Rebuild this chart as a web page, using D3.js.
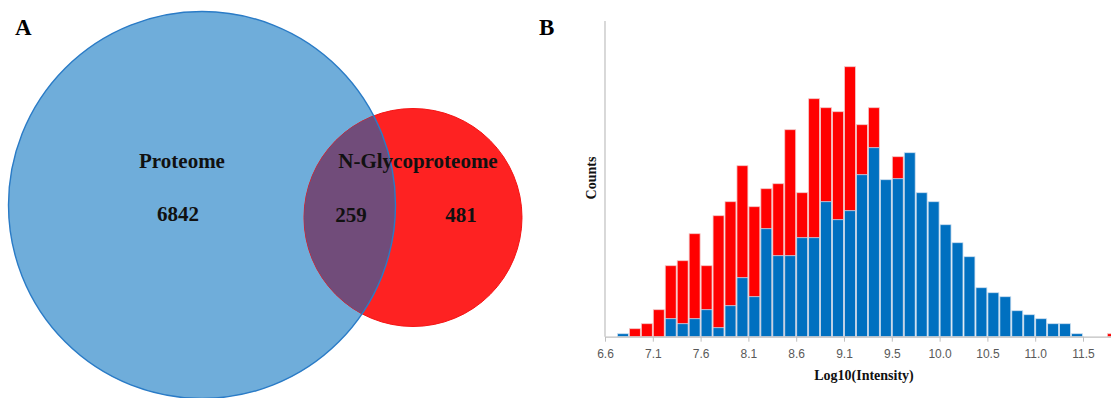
<!DOCTYPE html>
<html>
<head>
<meta charset="utf-8">
<script src="https://cdn.jsdelivr.net/npm/d3@7/dist/d3.min.js"></script>
<style>
  html, body { margin: 0; padding: 0; background: #fff; }
  svg { display: block; }
</style>
</head>
<body>
<svg id="fig" width="1111" height="398"></svg>
<script>
// ---- Panel A: Venn overlap counts ----
const vennSetNames = ["Proteome", "N-Glycoproteome"];
const vennRegionCounts = [6842, 259, 481]; // proteome only, shared, glyco only

// ---- Panel B: intensity histogram (bins of Log10 intensity) ----
const xTickLabels = ["6.6", "7.1", "7.6", "8.1", "8.6", "9.1", "9.5", "10.0", "10.5", "11.0", "11.5"];
const binsPerLabel = 4;
const proteomeCounts = [
  0, 3, 0, 0, 0, 18, 13, 18, 27, 9,
  31, 59, 40, 108, 81, 81, 99, 99, 135, 117,
  126, 162, 189, 157, 158, 184, 144, 135, 112, 94,
  80, 49, 44, 40, 26, 22, 18, 13, 13, 3,
  0, 0, 0
];
const glycoCounts = [
  0, 0, 8, 13, 27, 71, 76, 103, 71, 121,
  135, 171, 130, 148, 153, 207, 144, 238, 229, 225,
  270, 212, 229, 0, 180, 0, 0, 0, 0, 0,
  0, 0, 0, 0, 0, 0, 0, 0, 0, 0,
  0, 0, 3
];

const svg = d3.select("#fig");
const serif = "'Liberation Serif', 'Times New Roman', serif";

// ================= Panel A =================
const big = { cx: 202, cy: 205, r: 193.5 };
const small = { cx: 413, cy: 217.5, r: 109 };

const defs = svg.append("defs");
defs.append("clipPath").attr("id", "bigClip")
  .append("circle").attr("cx", big.cx).attr("cy", big.cy).attr("r", big.r);

const venn = svg.append("g");
venn.append("circle")
  .attr("cx", big.cx).attr("cy", big.cy).attr("r", big.r)
  .attr("fill", "#6fadda");
venn.append("circle")
  .attr("cx", small.cx).attr("cy", small.cy).attr("r", small.r)
  .attr("fill", "#fe2222").attr("stroke", "#f51414").attr("stroke-width", 1);
venn.append("circle")
  .attr("clip-path", "url(#bigClip)")
  .attr("cx", small.cx).attr("cy", small.cy).attr("r", small.r)
  .attr("fill", "#714c7a");
venn.append("circle")
  .attr("cx", big.cx).attr("cy", big.cy).attr("r", big.r)
  .attr("fill", "none").attr("stroke", "#2a7bc6").attr("stroke-width", 1.4);

const vennText = [
  { t: vennSetNames[0], x: 182, y: 168 },
  { t: vennSetNames[1], x: 418, y: 168 },
  { t: String(vennRegionCounts[0]), x: 178, y: 221 },
  { t: String(vennRegionCounts[1]), x: 351, y: 222 },
  { t: String(vennRegionCounts[2]), x: 461, y: 222 }
];
venn.selectAll("text.vl").data(vennText).join("text")
  .attr("class", "vl")
  .attr("x", d => d.x).attr("y", d => d.y)
  .attr("text-anchor", "middle")
  .attr("font-family", serif).attr("font-weight", "bold")
  .attr("font-size", 21).attr("fill", "#111")
  .text(d => d.t);

// panel letters
svg.append("text").attr("x", 15).attr("y", 35)
  .attr("font-family", serif).attr("font-weight", "bold").attr("font-size", 23)
  .text("A");
svg.append("text").attr("x", 539).attr("y", 35)
  .attr("font-family", serif).attr("font-weight", "bold").attr("font-size", 23)
  .text("B");

// ================= Panel B =================
const x0 = 605, baseY = 336.7, topY = 21;
const binW = 11.95;
const x = d3.scaleLinear().domain([0, 1]).range([x0, x0 + binW]);
const y = d3.scaleLinear().domain([0, 315.7]).range([baseY, topY]);

const hist = svg.append("g");

// red series sits behind the blue one
hist.selectAll("rect.glyco").data(glycoCounts.map((v, i) => ({ v, i })).filter(d => d.v > 0))
  .join("rect").attr("class", "glyco")
  .attr("x", d => x(d.i) + 0.5)
  .attr("width", x(1) - x(0) - 1)
  .attr("y", d => y(d.v))
  .attr("height", d => y(0) - y(d.v))
  .attr("fill", "#ff0000")
  .attr("stroke", "#f3c9c9").attr("stroke-width", 0.8);

hist.selectAll("rect.prot").data(proteomeCounts.map((v, i) => ({ v, i })).filter(d => d.v > 0))
  .join("rect").attr("class", "prot")
  .attr("x", d => x(d.i) + 0.5)
  .attr("width", x(1) - x(0) - 1)
  .attr("y", d => y(d.v))
  .attr("height", d => y(0) - y(d.v))
  .attr("fill", "#0070c0")
  .attr("stroke", "#cfe0f0").attr("stroke-width", 0.8);

// axes
const axisColor = "#bfbfbf";
const xAxisScale = d3.scaleLinear().domain([0, (1111 - x0) / binW]).range([x0, 1111]);
const xAxis = d3.axisBottom(xAxisScale)
  .tickValues(xTickLabels.map((_, i) => i * binsPerLabel))
  .tickFormat((d, i) => xTickLabels[i])
  .tickSizeInner(5).tickSizeOuter(0).tickPadding(8);

const gx = svg.append("g").attr("transform", `translate(0,${baseY})`).call(xAxis);
gx.select(".domain").attr("stroke", axisColor).attr("stroke-width", 1.2);
gx.selectAll(".tick line").attr("stroke", axisColor);
gx.selectAll(".tick text")
  .attr("fill", "#595959")
  .attr("font-family", "'Liberation Sans', Arial, sans-serif")
  .attr("font-size", 12);

svg.append("line")
  .attr("x1", x0).attr("x2", x0).attr("y1", topY).attr("y2", baseY)
  .attr("stroke", axisColor).attr("stroke-width", 1.2);

// axis titles
svg.append("text")
  .attr("x", 864).attr("y", 380)
  .attr("text-anchor", "middle")
  .attr("font-family", serif).attr("font-weight", "bold").attr("font-size", 14)
  .attr("fill", "#111")
  .text("Log10(Intensity)");

svg.append("text")
  .attr("transform", "translate(596,178) rotate(-90)")
  .attr("text-anchor", "middle")
  .attr("font-family", serif).attr("font-weight", "bold").attr("font-size", 14)
  .attr("fill", "#111")
  .text("Counts");
</script>
</body>
</html>
